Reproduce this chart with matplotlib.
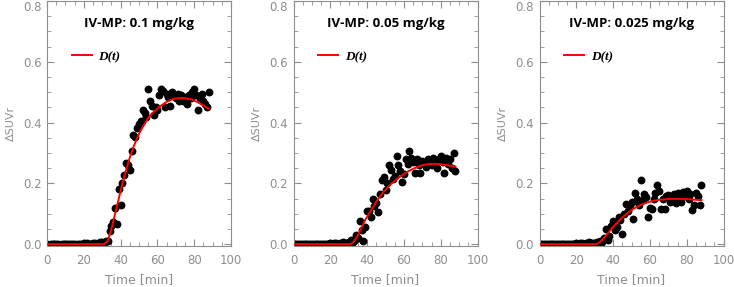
import numpy as np
import matplotlib
matplotlib.use("Agg")
import matplotlib.pyplot as plt
from matplotlib.ticker import MultipleLocator

# time grid of the measured points [min]
time_min = np.arange(0, 89)

titles = ["IV-MP: 0.1 mg/kg", "IV-MP: 0.05 mg/kg", "IV-MP: 0.025 mg/kg"]

suvr_01 = [
    0.000, -0.002, 0.001, 0.000, -0.001, 0.002, 0.000, -0.002, 0.001, 0.000,
    -0.001, 0.000, 0.002, -0.001, 0.000, 0.001, -0.002, 0.000, 0.001, 0.000,
    0.003, 0.001, 0.004, 0.002, 0.000, 0.003, 0.005, 0.002, 0.004, 0.006,
    0.008, 0.004, 0.012, 0.010, 0.044, 0.060, 0.072, 0.120, 0.067, 0.183,
    0.128, 0.200, 0.228, 0.267, 0.260, 0.244, 0.305, 0.360, 0.352, 0.383,
    0.395, 0.405, 0.440, 0.430, 0.420, 0.510, 0.470, 0.455, 0.425, 0.450,
    0.440, 0.490, 0.510, 0.505, 0.450, 0.495, 0.485, 0.456, 0.500, 0.490,
    0.480, 0.495, 0.470, 0.492, 0.470, 0.485, 0.460, 0.490, 0.480, 0.500,
    0.510, 0.490, 0.440, 0.480, 0.495, 0.470, 0.460, 0.450, 0.500,
]
suvr_005 = [
    0.000, 0.001, -0.001, 0.000, 0.002, 0.000, -0.001, 0.001, 0.000, 0.002,
    0.000, -0.001, 0.001, 0.000, 0.002, -0.001, 0.000, 0.001, 0.000, 0.002,
    0.004, 0.001, 0.003, 0.005, 0.002, 0.004, 0.001, 0.006, 0.003, 0.005,
    0.008, 0.015, 0.004, 0.012, 0.030, 0.020, 0.075, 0.045, 0.010, 0.055,
    0.110, 0.110, 0.090, 0.150, 0.125, 0.135, 0.105, 0.165, 0.210, 0.222,
    0.178, 0.200, 0.260, 0.245, 0.215, 0.225, 0.290, 0.260, 0.240, 0.205,
    0.230, 0.280, 0.265, 0.305, 0.285, 0.270, 0.235, 0.280, 0.260, 0.235,
    0.275, 0.265, 0.255, 0.280, 0.270, 0.260, 0.285, 0.275, 0.250, 0.280,
    0.290, 0.270, 0.235, 0.285, 0.265, 0.280, 0.250, 0.300, 0.240,
]
suvr_0025 = [
    0.000, 0.001, -0.001, 0.000, 0.002, 0.000, -0.001, 0.001, 0.000, 0.002,
    0.000, -0.001, 0.001, 0.000, 0.002, -0.001, 0.000, 0.001, 0.000, 0.002,
    0.004, 0.001, 0.003, 0.005, 0.002, 0.004, 0.001, 0.006, 0.003, 0.005,
    0.004, 0.008, 0.002, 0.010, 0.006, 0.020, 0.050, 0.015, 0.028, 0.060,
    0.075, 0.045, 0.055, 0.090, 0.080, 0.033, 0.100, 0.133, 0.110, 0.128,
    0.140, 0.083, 0.167, 0.150, 0.130, 0.210, 0.144, 0.165, 0.155, 0.089,
    0.120, 0.117, 0.150, 0.167, 0.194, 0.175, 0.117, 0.150, 0.117, 0.160,
    0.161, 0.140, 0.150, 0.165, 0.135, 0.170, 0.150, 0.140, 0.172, 0.160,
    0.175, 0.150, 0.165, 0.111, 0.130, 0.170, 0.160, 0.128, 0.194,
]

# fitted D(t) curves
fit_t = [0, 31, 33, 35, 37, 39, 41, 43, 45, 47, 49, 51, 53, 55, 57, 59,
         61, 63, 65, 67, 69, 71, 73, 75, 77, 79, 81, 83, 85, 88]
fit_01 = [0, 0, 0.01, 0.05, 0.10, 0.15, 0.20, 0.245, 0.285, 0.32, 0.35, 0.375,
          0.395, 0.415, 0.43, 0.44, 0.452, 0.46, 0.468, 0.474, 0.478, 0.48,
          0.481, 0.48, 0.478, 0.475, 0.47, 0.463, 0.456, 0.445]
fit_005 = [0, 0, 0.01, 0.03, 0.055, 0.08, 0.10, 0.12, 0.14, 0.157, 0.172, 0.186,
           0.198, 0.208, 0.218, 0.227, 0.235, 0.242, 0.248, 0.253, 0.258, 0.261,
           0.263, 0.264, 0.264, 0.263, 0.262, 0.26, 0.258, 0.255]
fit_0025 = [0, 0, 0.008, 0.02, 0.035, 0.05, 0.063, 0.076, 0.088, 0.098, 0.108,
            0.116, 0.123, 0.129, 0.134, 0.138, 0.141, 0.144, 0.146, 0.147, 0.148,
            0.149, 0.149, 0.149, 0.149, 0.148, 0.148, 0.147, 0.146, 0.145]

points = [suvr_01, suvr_005, suvr_0025]
fits = [fit_01, fit_005, fit_0025]

W, H = 734, 287
fig = plt.figure(figsize=(W / 100, H / 100), dpi=100)
grey = '#8e8e8e'

lefts = [47, 293.5, 539.5]
axes = []
for i in range(3):
    ax = fig.add_axes([lefts[i] / W, 41 / H, 184 / W, 245 / H])
    ax.scatter(time_min, points[i], s=32, color='black', zorder=2, linewidths=0)
    ax.plot(fit_t, fits[i], color='red', lw=1.4, zorder=3, label='D(t)')
    ax.set_xlim(0, 100)
    ax.set_ylim(-0.006, 0.8)
    ax.xaxis.set_major_locator(MultipleLocator(20))
    ax.xaxis.set_minor_locator(MultipleLocator(5))
    ax.yaxis.set_major_locator(MultipleLocator(0.2))
    ax.yaxis.set_minor_locator(MultipleLocator(0.05))
    ax.yaxis.set_major_formatter(plt.FormatStrFormatter('%.1f'))
    ax.tick_params(which='both', direction='in', top=True, right=True,
                   colors=grey, labelsize=8.5, labelcolor=grey)
    ax.tick_params(axis='x', which='major', length=5, pad=6)
    ax.tick_params(axis='y', which='major', length=5, pad=4)
    ax.tick_params(which='minor', length=3)
    for sp in ax.spines.values():
        sp.set_color(grey)
        sp.set_linewidth(0.8)
    ax.set_xlabel('Time [min]', color=grey, fontsize=9, labelpad=4)
    ax.set_ylabel('ΔSUVr', color=grey, fontsize=8, labelpad=5)
    ax.text(0.5, 0.91, titles[i], transform=ax.transAxes, ha='center',
            va='center', fontsize=9.5, fontweight='bold', family='Open Sans')
    ax.legend(loc='upper left', bbox_to_anchor=(0.07, 0.845), frameon=False,
              handlelength=1.5, handletextpad=0.5,
              prop={'family': 'Liberation Serif', 'weight': 'bold',
                    'style': 'italic', 'size': 9.5})
    axes.append(ax)

# keep the top y label (0.8) inside the picture
fig.canvas.draw()
for ax in axes:
    for lab in ax.get_yticklabels():
        if lab.get_text() == '0.8':
            lab.set_va('top')

fig.savefig('out.png', dpi=100)
